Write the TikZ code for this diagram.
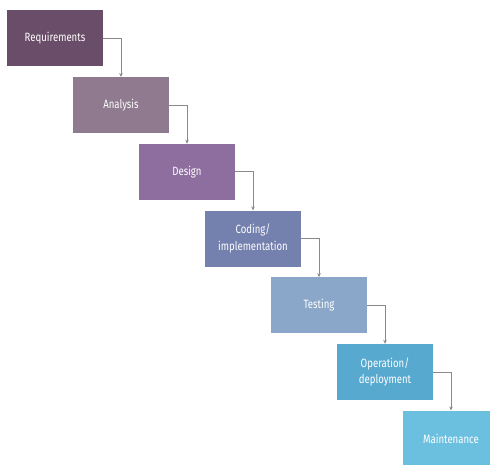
\documentclass[tikz,border=0pt]{standalone}
\usepackage{fontspec}
\setmainfont[FakeStretch=0.8]{Fira Sans}
\usetikzlibrary{arrows.meta}
\definecolor{c1}{HTML}{6A4D68}
\definecolor{c2}{HTML}{8F7A8F}
\definecolor{c3}{HTML}{8D6E9E}
\definecolor{c4}{HTML}{7480AE}
\definecolor{c5}{HTML}{8AA6C8}
\definecolor{c6}{HTML}{57A9CF}
\definecolor{c7}{HTML}{6BC0E0}
\definecolor{linegray}{HTML}{8A8A8A}
\tikzset{
  phase/.style={fill=#1, draw=none, minimum width=96pt, minimum height=56pt,
    inner sep=0pt, align=center, text=white,
    font=\fontsize{12}{16.5}\selectfont},
  flow/.style={draw=linegray, line width=0.8pt,
    -{Stealth[length=4pt,width=3.6pt]}}
}
\begin{document}
\begin{tikzpicture}[x=1pt,y=-1pt]
\useasboundingbox (0,0) rectangle (490,465);
\clip (0,0) rectangle (490,465);
\node[phase=c1] (p1) at (55,38.5) {Requirements};
\node[phase=c2] (p2) at (121,105.2) {Analysis};
\node[phase=c3] (p3) at (187,171.9) {Design};
\node[phase=c4] (p4) at (253,238.6) {Coding/\\implementation};
\node[phase=c5] (p5) at (319,305.3) {Testing};
\node[phase=c6] (p6) at (385,372) {Operation/\\deployment};
\node[phase=c7] (p7) at (451,438.7) {Maintenance};
\draw[flow] (p1.east) -| (p2.north);
\draw[flow] (p2.east) -| (p3.north);
\draw[flow] (p3.east) -| (p4.north);
\draw[flow] (p4.east) -| (p5.north);
\draw[flow] (p5.east) -| (p6.north);
\draw[flow] (p6.east) -| (p7.north);
\end{tikzpicture}
\end{document}
